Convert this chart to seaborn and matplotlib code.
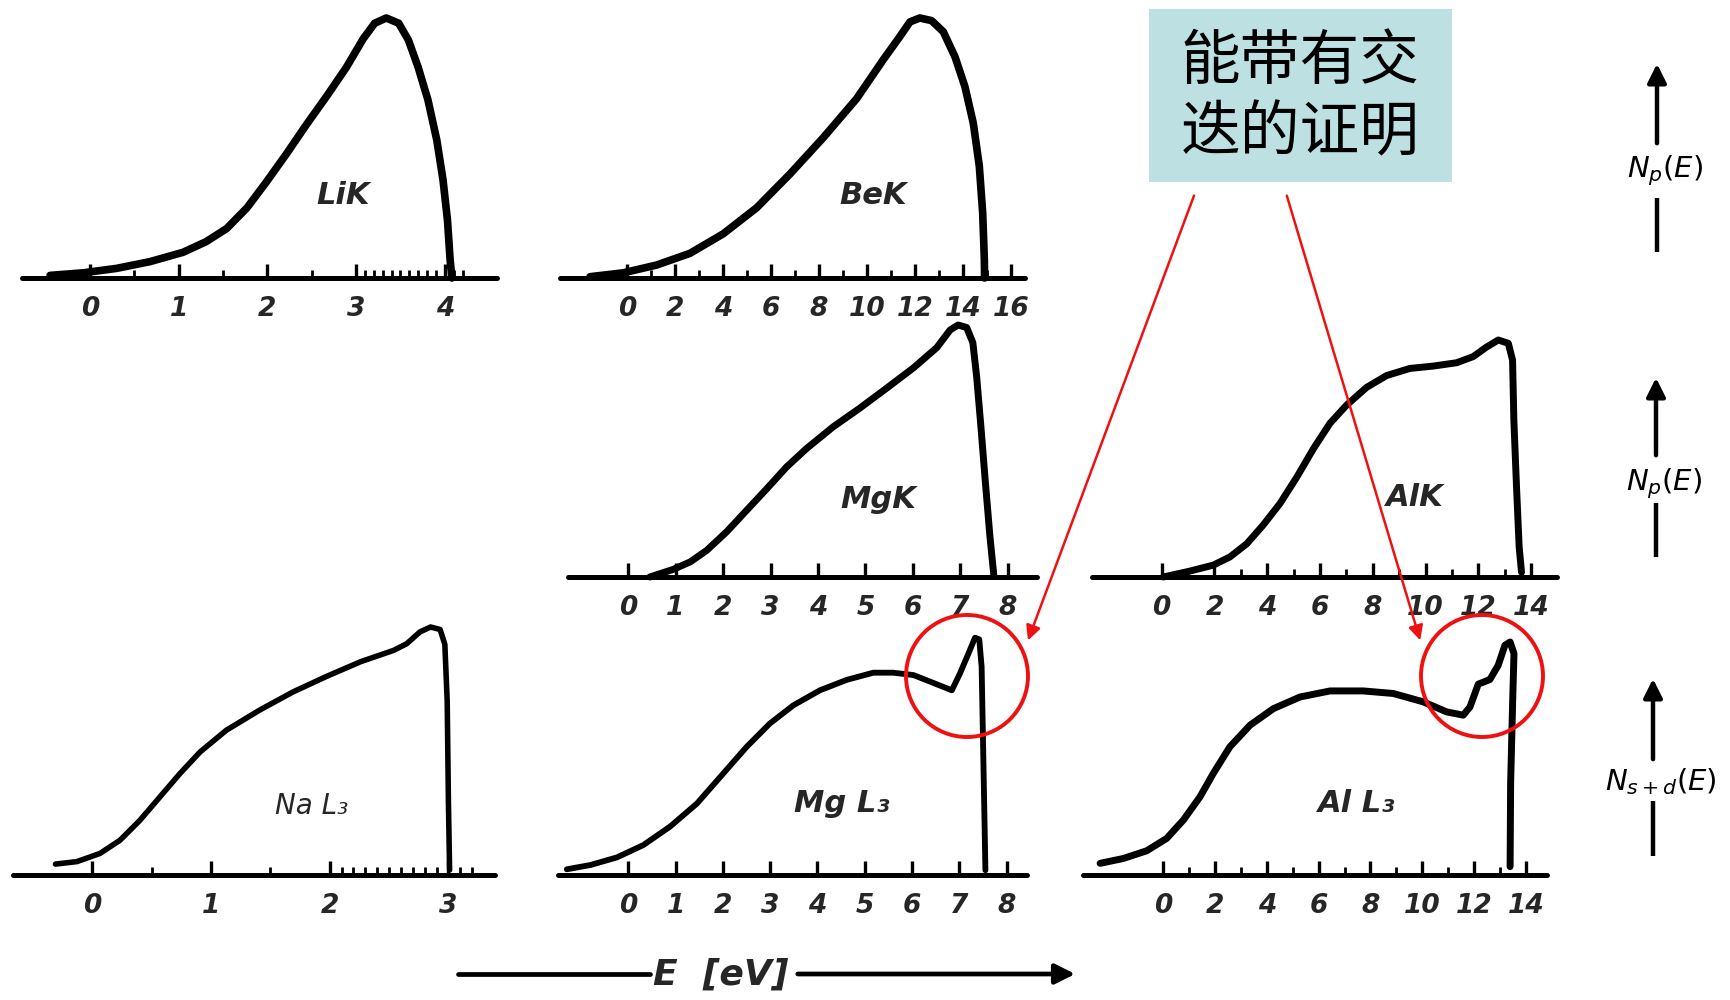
import matplotlib
matplotlib.use("Agg")
import matplotlib.pyplot as plt
import seaborn as sns
from matplotlib.patches import Circle, Rectangle

# ---------------- data (energy in eV, normalised intensity) ----------------
lik_e = [-0.45, -0.075, 0.30, 0.677, 1.05, 1.31, 1.54, 1.77, 1.99, 2.22, 2.44, 2.67, 2.89, 3.08, 3.21, 3.34,
         3.48, 3.59, 3.70, 3.81, 3.91, 3.98, 4.03, 4.06, 4.08]
lik_n = [0.01, 0.02, 0.037, 0.063, 0.099, 0.14, 0.19, 0.27, 0.37, 0.48, 0.59, 0.70, 0.81, 0.92, 0.98, 1.00,
         0.98, 0.915, 0.81, 0.685, 0.53, 0.377, 0.223, 0.07, 0.0]

bek_e = [-1.54, -0.15, 1.24, 2.625, 4.01, 5.40, 6.79, 8.18, 9.57, 10.68, 11.38, 11.79, 12.2, 12.69, 13.18,
         13.67, 14.08, 14.43, 14.68, 14.82, 14.89, 14.9]
bek_n = [0.005, 0.02, 0.05, 0.095, 0.17, 0.27, 0.40, 0.54, 0.69, 0.84, 0.93, 0.985, 1.00, 0.99, 0.947,
         0.85, 0.736, 0.595, 0.43, 0.25, 0.07, 0.0]

mgk_e = [0.46, 0.95, 1.31, 1.66, 2.08, 2.50, 2.92, 3.34, 3.76, 4.32, 4.88, 5.45, 6.01, 6.50, 6.78, 6.95,
         7.13, 7.26, 7.34, 7.43, 7.52, 7.62, 7.70]
mgk_n = [0.0, 0.03, 0.06, 0.106, 0.18, 0.265, 0.35, 0.437, 0.51, 0.596, 0.67, 0.75, 0.83, 0.91, 0.98, 1.00,
         0.99, 0.93, 0.795, 0.596, 0.384, 0.16, 0.01]

alk_e = [0.06, 1.07, 1.95, 2.59, 3.22, 3.85, 4.48, 5.11, 5.74, 6.37, 7.0, 7.76, 8.52, 9.4, 10.29, 11.17,
         11.8, 12.3, 12.75, 13.13, 13.29, 13.34, 13.44, 13.54, 13.63]
alk_n = [0.0, 0.025, 0.05, 0.085, 0.14, 0.22, 0.31, 0.42, 0.54, 0.648, 0.725, 0.80, 0.85, 0.88, 0.89, 0.904,
         0.93, 0.97, 1.00, 0.986, 0.915, 0.66, 0.38, 0.127, 0.02]

nal3_e = [-0.31, -0.13, 0.065, 0.233, 0.40, 0.57, 0.74, 0.91, 1.13, 1.41, 1.69, 1.97, 2.26, 2.54, 2.65,
          2.76, 2.85, 2.93, 2.97, 2.99, 3.00, 3.01]
nal3_n = [0.044, 0.054, 0.087, 0.14, 0.22, 0.315, 0.41, 0.497, 0.584, 0.665, 0.738, 0.80, 0.86, 0.906, 0.933,
          0.98, 1.00, 0.99, 0.93, 0.70, 0.30, 0.02]

mgl3_e = [-1.30, -0.80, -0.24, 0.32, 0.88, 1.45, 2.01, 2.50, 2.99, 3.49, 4.05, 4.62, 5.18, 5.60, 6.03,
          6.45, 6.84, 7.01, 7.19, 7.33, 7.42, 7.47, 7.51, 7.55]
mgl3_n = [0.024, 0.042, 0.074, 0.126, 0.203, 0.30, 0.427, 0.538, 0.636, 0.713, 0.776, 0.82, 0.85, 0.85, 0.84,
          0.807, 0.776, 0.846, 0.93, 0.997, 0.99, 0.874, 0.45, 0.02]

all3_e = [-2.44, -1.54, -0.64, 0.13, 0.776, 1.42, 1.93, 2.57, 3.35, 4.25, 5.28, 6.44, 7.72, 8.88, 10.04,
          10.94, 11.58, 11.84, 12.16, 12.61, 12.93, 13.19, 13.39, 13.54, 13.49, 13.41, 13.39]
all3_n = [0.05, 0.071, 0.104, 0.157, 0.236, 0.336, 0.436, 0.55, 0.643, 0.714, 0.764, 0.79, 0.79, 0.779, 0.743,
          0.70, 0.686, 0.721, 0.819, 0.839, 0.90, 0.986, 1.00, 0.95, 0.75, 0.393, 0.036]

lik_ticks = [0, 1, 2, 3, 4]
bek_ticks = [0, 2, 4, 6, 8, 10, 12, 14, 16]
mgk_ticks = [0, 1, 2, 3, 4, 5, 6, 7, 8]
alk_ticks = [0, 2, 4, 6, 8, 10, 12, 14]
nal3_ticks = [0, 1, 2, 3]
mgl3_ticks = [0, 1, 2, 3, 4, 5, 6, 7, 8]
all3_ticks = [0, 2, 4, 6, 8, 10, 12, 14]

lik_minor = [0.5, 1.5, 2.5, 3.1, 3.2, 3.3, 3.4, 3.5, 3.6, 3.7, 3.8, 3.9, 4.1, 4.2]
bek_minor = [1, 3, 5, 7, 9, 11, 13, 15]
mgk_minor = []
alk_minor = [1, 3, 5, 7, 9, 11, 13]
nal3_minor = [0.5, 1.5, 2.1, 2.2, 2.3, 2.4, 2.5, 2.6, 2.7, 2.8, 2.9, 3.1, 3.2]
mgl3_minor = []
all3_minor = [1, 3, 5, 7, 9, 11, 13]

spectrum_names = ["LiK", "BeK", "MgK", "AlK", "Na L₃", "Mg L₃", "Al L₃"]
row_labels = [r"$N_p(E)$", r"$N_p(E)$", r"$N_{s+d}(E)$"]
axis_title = "E  [eV]"
note_text = "能带有交\n迭的证明"

# ---------------- layout (figure pixels) ----------------
W, H = 1731, 1000
sns.set_style("white")
plt.rcParams['font.family'] = ['DejaVu Sans', 'Noto Sans CJK SC']

fig = plt.figure(figsize=(W / 100, H / 100), dpi=100)

# (e, n, ticks, minor, name, x0, x1, zero_px, px_per_eV, baseline, peak, lw, label_xy, label_weight)
panels = [
    (lik_e, lik_n, lik_ticks, lik_minor, spectrum_names[0], 22, 497, 90, 88.7, 278, 18, 5.5, (343, 195), 'bold'),
    (bek_e, bek_n, bek_ticks, bek_minor, spectrum_names[1], 560, 1025, 627, 24.0, 278, 18, 5.5, (873, 195), 'bold'),
    (mgk_e, mgk_n, mgk_ticks, mgk_minor, spectrum_names[2], 568, 1037, 628, 47.5, 577, 325, 5.0, (878, 500), 'bold'),
    (alk_e, alk_n, alk_ticks, alk_minor, spectrum_names[3], 1092, 1557, 1161.7, 26.4, 577, 340, 5.0, (1415, 497), 'bold'),
    (nal3_e, nal3_n, nal3_ticks, nal3_minor, spectrum_names[4], 13, 495, 92.3, 118.7, 875, 627, 4.0, (312, 806), 'normal'),
    (mgl3_e, mgl3_n, mgl3_ticks, mgl3_minor, spectrum_names[5], 558, 1027, 628.3, 47.3, 875, 637, 4.2, (842, 803), 'bold'),
    (all3_e, all3_n, all3_ticks, all3_minor, spectrum_names[6], 1083, 1547, 1163.3, 25.9, 875, 642, 5.0, (1357, 803), 'bold'),
]

for (e, n, ticks, minor, name, x0, x1, z, s, base, peak, lw, lxy, lwt) in panels:
    ax = fig.add_axes([x0 / W, 1 - base / H, (x1 - x0) / W, (base - peak) / H])
    ax.set_facecolor('none')
    sns.lineplot(x=e, y=n, ax=ax, sort=False, estimator=None, color='black',
                 lw=lw, clip_on=False, solid_capstyle='round', solid_joinstyle='round')
    ax.set_xlim((x0 - z) / s, (x1 - z) / s)
    ax.set_ylim(0, 1)
    ax.set_xlabel("")
    ax.set_ylabel("")
    ax.set_yticks([])
    for sp in ['left', 'right', 'top']:
        ax.spines[sp].set_visible(False)
    ax.spines['bottom'].set_linewidth(3.6)
    ax.spines['bottom'].set_color('black')
    ax.spines['bottom'].set_capstyle('round')
    ax.set_xticks(ticks)
    ax.set_xticklabels([str(t) for t in ticks])
    ax.set_xticks(minor, minor=True)
    ax.tick_params(axis='x', which='major', bottom=True, direction='in', length=10, width=2.4,
                   color='black', pad=13, labelsize=19)
    ax.tick_params(axis='x', which='minor', bottom=True, direction='in', length=5.5, width=2.0,
                   color='black')
    for lab in ax.get_xticklabels():
        lab.set_fontstyle('italic')
        lab.set_fontweight('bold')
    fig.text(lxy[0] / W, 1 - lxy[1] / H, name, ha='center', va='center',
             fontsize=22 if lwt == 'bold' else 20, fontstyle='italic', fontweight=lwt)

# ---------------- overlay in pixel coordinates ----------------
ov = fig.add_axes([0, 0, 1, 1])
ov.set_xlim(0, W)
ov.set_ylim(H, 0)
ov.axis('off')

# right-hand y-quantity arrows
for (xa, head, shaft_end, ly, low0, low1), lab in zip(
        [(1657, 61, 146, 171, 198, 252),
         (1656, 375, 458, 484, 503, 557),
         (1653, 676, 762, 782, 801, 856)], row_labels):
    ov.annotate('', xy=(xa, head), xytext=(xa, shaft_end),
                arrowprops=dict(arrowstyle='-|>', color='black', lw=3.2, mutation_scale=28))
    ov.plot([xa, xa], [low0, low1], color='black', lw=3.2, solid_capstyle='butt')
    ov.text(xa + 8, ly, lab, ha='center', va='center', fontsize=21, color='black')

# bottom energy axis arrow
ov.plot([458, 650], [974, 974], color='black', lw=3.4)
ov.annotate('', xy=(1078, 974), xytext=(795, 974),
            arrowprops=dict(arrowstyle='-|>', color='black', lw=3.4, mutation_scale=30))
ov.text(721, 975, axis_title, ha='center', va='center', fontsize=26,
        fontstyle='italic', fontweight='bold')

# annotation box
ov.add_patch(Rectangle((1149, 9), 303, 173, facecolor='#BDE0E3', edgecolor='none', zorder=3))
ov.text(1300, 98, note_text, ha='center', va='center', fontsize=43,
        family=['Noto Sans CJK SC', 'DejaVu Sans'], linespacing=1.22, zorder=4, color='black')

# red arrows and circles
ov.annotate('', xy=(1027, 643), xytext=(1195, 193),
            arrowprops=dict(arrowstyle='-|>', color='#EE1111', lw=1.8, mutation_scale=22))
ov.annotate('', xy=(1421, 643), xytext=(1286, 193),
            arrowprops=dict(arrowstyle='-|>', color='#EE1111', lw=1.8, mutation_scale=22))
ov.add_patch(Circle((967, 676), 61, fill=False, edgecolor='#EE1111', lw=2.8))
ov.add_patch(Circle((1482, 676), 61, fill=False, edgecolor='#EE1111', lw=2.8))

fig.savefig("out.png", dpi=100, facecolor='white')
